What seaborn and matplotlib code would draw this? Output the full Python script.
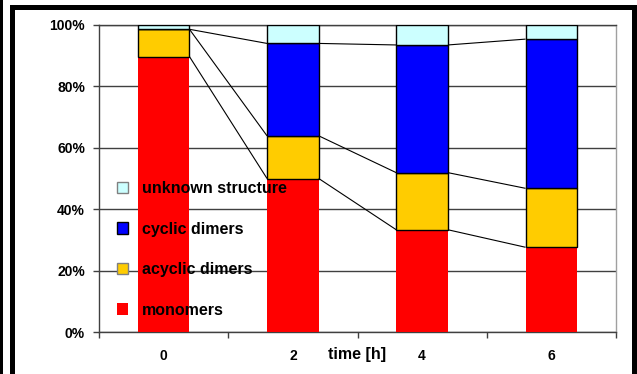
import matplotlib
matplotlib.use("Agg")
import matplotlib.pyplot as plt
from matplotlib.patches import Patch, Rectangle
import numpy as np
import pandas as pd
import seaborn as sns

# composition of the reaction mixture (% of total) at each sampling time
times = ["0", "2", "4", "6"]
monomers = [89.7, 50.0, 33.3, 27.6]
acyclic_dimers = [8.9, 13.9, 18.6, 19.2]
cyclic_dimers = [0.0, 30.1, 41.6, 48.6]
unknown_structure = [1.4, 6.0, 6.5, 4.6]

series_names = ["monomers", "acyclic dimers", "cyclic dimers", "unknown structure"]
series_values = [monomers, acyclic_dimers, cyclic_dimers, unknown_structure]
series_colors = ["#FF0000", "#FFCC00", "#0000FF", "#CCFFFF"]
series_edges = ["none", "black", "black", "black"]
legend_edges = ["none", "#808080", "black", "#808080"]
y_ticks = [0, 20, 40, 60, 80, 100]
y_tick_labels = ["0%", "20%", "40%", "60%", "80%", "100%"]

sns.set_theme(style="white")
plt.rcParams["font.family"] = ["Liberation Sans", "DejaVu Sans"]
plt.rcParams["font.weight"] = "bold"
plt.rcParams["text.color"] = "black"
plt.rcParams["axes.labelcolor"] = "black"
plt.rcParams["xtick.labelcolor"] = "black"
plt.rcParams["ytick.labelcolor"] = "black"

W, H = 637, 374
fig = plt.figure(figsize=(W / 100, H / 100), dpi=100)
fig.patch.set_facecolor("white")
ax = fig.add_axes([99 / W, (H - 332) / H, 517 / W, 307 / H])

bar_w = 0.4
bottom = np.zeros(len(times))
cum_tops = []
for name, vals, col, ec in zip(series_names, series_values, series_colors, series_edges):
    df = pd.DataFrame({"time": times, "value": vals})
    sns.barplot(data=df, x="time", y="value", color=col, saturation=1,
                width=bar_w, bottom=bottom, edgecolor=ec,
                linewidth=0 if ec == "none" else 1.0, ax=ax, zorder=3,
                errorbar=None)
    bottom = bottom + np.array(vals)
    cum_tops.append(bottom.copy())

# series lines joining the top of each segment between neighbouring bars
xs = np.arange(len(times))
for tops in cum_tops[:-1]:
    for i in range(len(times) - 1):
        ax.plot([xs[i] + bar_w / 2, xs[i + 1] - bar_w / 2], [tops[i], tops[i + 1]],
                color="black", lw=0.8, zorder=4, solid_capstyle="butt")

ax.set_xlim(-0.5, len(times) - 0.5)
ax.set_ylim(0, 100)

ax.set_yticks(y_ticks)
ax.set_yticklabels(y_tick_labels, fontsize=10, fontweight="bold", color="black")
ax.tick_params(axis="y", length=4, width=1, color="#404040", pad=6, left=True)

ax.set_xticks(np.arange(-0.5, len(times), 1.0))
ax.set_xticklabels([])
ax.set_xticks(xs, minor=True)
ax.set_xticklabels(times, minor=True, fontsize=10, fontweight="bold", color="black")
ax.tick_params(axis="x", which="major", length=4, width=1, color="#404040", bottom=True)
ax.tick_params(axis="x", which="minor", length=0, pad=12)

ax.set_xlabel("time [h]", fontsize=11.5, fontweight="bold", color="black")
ax.xaxis.label.set_va("center")
ax.xaxis.set_label_coords(0.5, -22 / 307)
ax.set_ylabel("")

ax.yaxis.grid(True, color="#404040", lw=1, zorder=0)
ax.xaxis.grid(False)
ax.set_axisbelow(True)
for side in ["left", "bottom", "top"]:
    ax.spines[side].set_color("#404040")
    ax.spines[side].set_linewidth(1)
ax.spines["right"].set_color("#A0A0A0")
ax.spines["right"].set_linewidth(1)

handles = [Patch(facecolor=c, edgecolor=e, linewidth=1 if e != "none" else 0)
           for c, e in zip(series_colors, legend_edges)]
leg = ax.legend(handles[::-1], series_names[::-1], loc="upper left",
                bbox_to_anchor=(117 / W, (H - 181) / H), bbox_transform=fig.transFigure,
                frameon=False, prop={"size": 11.5, "weight": "bold"},
                handlelength=0.7, handleheight=0.7, handletextpad=0.85,
                labelspacing=1.6, borderaxespad=0, borderpad=0)
for t in leg.get_texts():
    t.set_color("black")
leg.set_zorder(6)

# outer frame of the chart
for x0, y0, w, h in [(10, 5, 623, 4.5), (10, 5, 5, 369), (632, 5, 5, 369), (0, 0, 3, 374)]:
    fig.add_artist(Rectangle((x0 / W, 1 - (y0 + h) / H), w / W, h / H,
                             transform=fig.transFigure, facecolor="black",
                             edgecolor="none", zorder=10))

fig.savefig("out.png", dpi=100, facecolor="white")
